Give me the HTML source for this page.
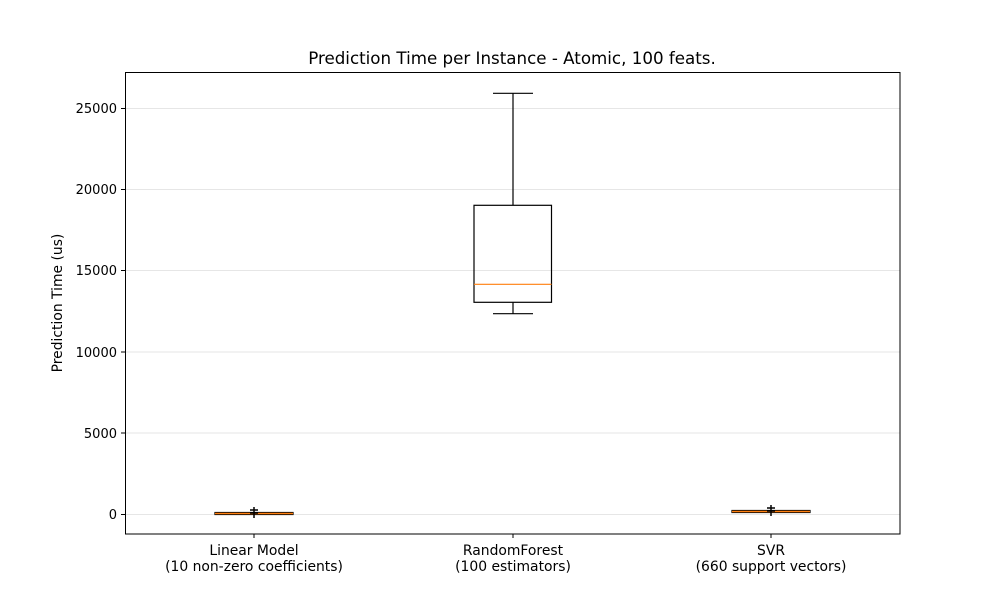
<!DOCTYPE html><html><head><style>body{margin:0;background:#fff}svg{display:block}text{font-family:"DejaVu Sans","Liberation Sans",sans-serif;font-size:13px;fill:#000}text.lbl{font-size:13.9px}</style></head><body>
<svg width="1000" height="600" xmlns="http://www.w3.org/2000/svg">
<g stroke="#e6e6e6" stroke-width="1">
<line x1="125" x2="900" y1="108.5" y2="108.5"/><line x1="125" x2="900" y1="189.5" y2="189.5"/><line x1="125" x2="900" y1="270.5" y2="270.5"/><line x1="125" x2="900" y1="352" y2="352"/><line x1="125" x2="900" y1="433" y2="433"/><line x1="125" x2="900" y1="514.5" y2="514.5"/>
</g>
<g stroke="#000" stroke-width="1.2" fill="none">
<line x1="513" x2="513" y1="93.3" y2="205.3"/><line x1="493" x2="533" y1="93.3" y2="93.3"/>
<rect x="474" y="205.3" width="77.5" height="97"/>
<line x1="513" x2="513" y1="302.3" y2="313.7"/><line x1="493" x2="533" y1="313.7" y2="313.7"/>
<rect x="215" y="512.5" width="78" height="2"/>
<rect x="732" y="510.5" width="78" height="2"/>
</g>
<line x1="474" x2="551.5" y1="284.3" y2="284.3" stroke="#ff7f0e" stroke-width="1.2"/>
<line x1="215" x2="293" y1="513.5" y2="513.5" stroke="#ff7f0e" stroke-width="1.5"/>
<line x1="732" x2="810" y1="511.5" y2="511.5" stroke="#ff7f0e" stroke-width="1.5"/>
<g stroke="#000" stroke-width="1.5">
<line x1="254" x2="254" y1="507" y2="518"/><line x1="250" x2="258" y1="510" y2="510"/><line x1="250" x2="258" y1="513" y2="513"/>
<line x1="771" x2="771" y1="505" y2="516"/><line x1="767" x2="775" y1="508" y2="508"/><line x1="767" x2="775" y1="511" y2="511"/>
</g>
<rect x="125.5" y="72.5" width="774.5" height="461.5" fill="none" stroke="#000" stroke-width="1"/>
<g stroke="#000"><line x1="121" x2="125" y1="108.5" y2="108.5"/><line x1="121" x2="125" y1="189.5" y2="189.5"/><line x1="121" x2="125" y1="270.5" y2="270.5"/><line x1="121" x2="125" y1="352" y2="352"/><line x1="121" x2="125" y1="433" y2="433"/><line x1="121" x2="125" y1="514.5" y2="514.5"/>
<line x1="254" x2="254" y1="534" y2="538"/><line x1="513" x2="513" y1="534" y2="538"/><line x1="771" x2="771" y1="534" y2="538"/></g>
<g text-anchor="end"><text x="117" y="113">25000</text><text x="117" y="194">20000</text><text x="117" y="275">15000</text><text x="117" y="357">10000</text><text x="117" y="438">5000</text><text x="117" y="519">0</text></g>
<g text-anchor="middle"><text class="lbl" x="254" y="555">Linear Model</text><text class="lbl" x="254" y="571">(10 non-zero coefficients)</text>
<text class="lbl" x="513" y="555">RandomForest</text><text class="lbl" x="513" y="571">(100 estimators)</text>
<text class="lbl" x="771" y="555">SVR</text><text class="lbl" x="771" y="571">(660 support vectors)</text>
<text x="512" y="64" style="font-size:16.7px">Prediction Time per Instance - Atomic, 100 feats.</text>
<text class="lbl" transform="translate(62,303) rotate(-90)">Prediction Time (us)</text></g>
</svg></body></html>
